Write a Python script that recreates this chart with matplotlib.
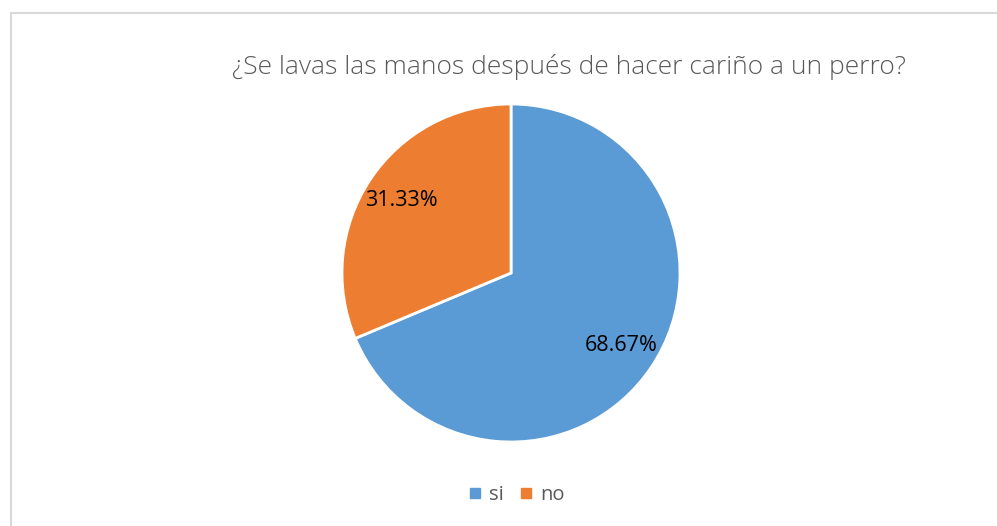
import matplotlib.pyplot as plt
from matplotlib.patches import Rectangle
from matplotlib.lines import Line2D

etiquetas = ['si', 'no']
valores = [68.67, 31.33]
colores = ['#5B9BD5', '#ED7D31']
titulo = '¿Se lavas las manos después de hacer cariño a un perro?'

W, H = 997, 526
fig = plt.figure(figsize=(W / 100, H / 100), dpi=100)
plt.rcParams['font.family'] = ['Open Sans', 'DejaVu Sans']

# marco gris (solo se ven el borde izquierdo y el de arriba)
fig.patches.append(Rectangle((11 / W, -0.05), 1.1, 1 - 13 / H + 0.05,
                             transform=fig.transFigure, fill=False,
                             edgecolor='#d9d9d9', linewidth=1.5))

cx, cy, r = 511, 273, 169
ax = fig.add_axes([(cx - r) / W, 1 - (cy + r) / H, 2 * r / W, 2 * r / H])
ax.pie(valores, colors=colores, startangle=90, counterclock=False,
       autopct='%.2f%%', pctdistance=0.78,
       wedgeprops=dict(edgecolor='white', linewidth=2),
       textprops=dict(fontsize=15.5, color='black'))
ax.set_xlim(-1, 1)
ax.set_ylim(-1, 1)
ax.set_aspect('equal')

fig.text(569 / W, 1 - 67 / H, titulo, ha='center', va='center',
         fontsize=19, color='#595959', fontweight='light')

handles = [Line2D([], [], marker='s', linestyle='', markersize=7,
                  color=c) for c in colores]
fig.legend(handles, etiquetas, loc='center', bbox_to_anchor=(516 / W, 1 - 495 / H),
           ncol=2, frameon=False, fontsize=14.5, labelcolor='#595959',
           handlelength=0.8, handletextpad=0.3, columnspacing=0.7)

fig.savefig('out.png', dpi=100)
